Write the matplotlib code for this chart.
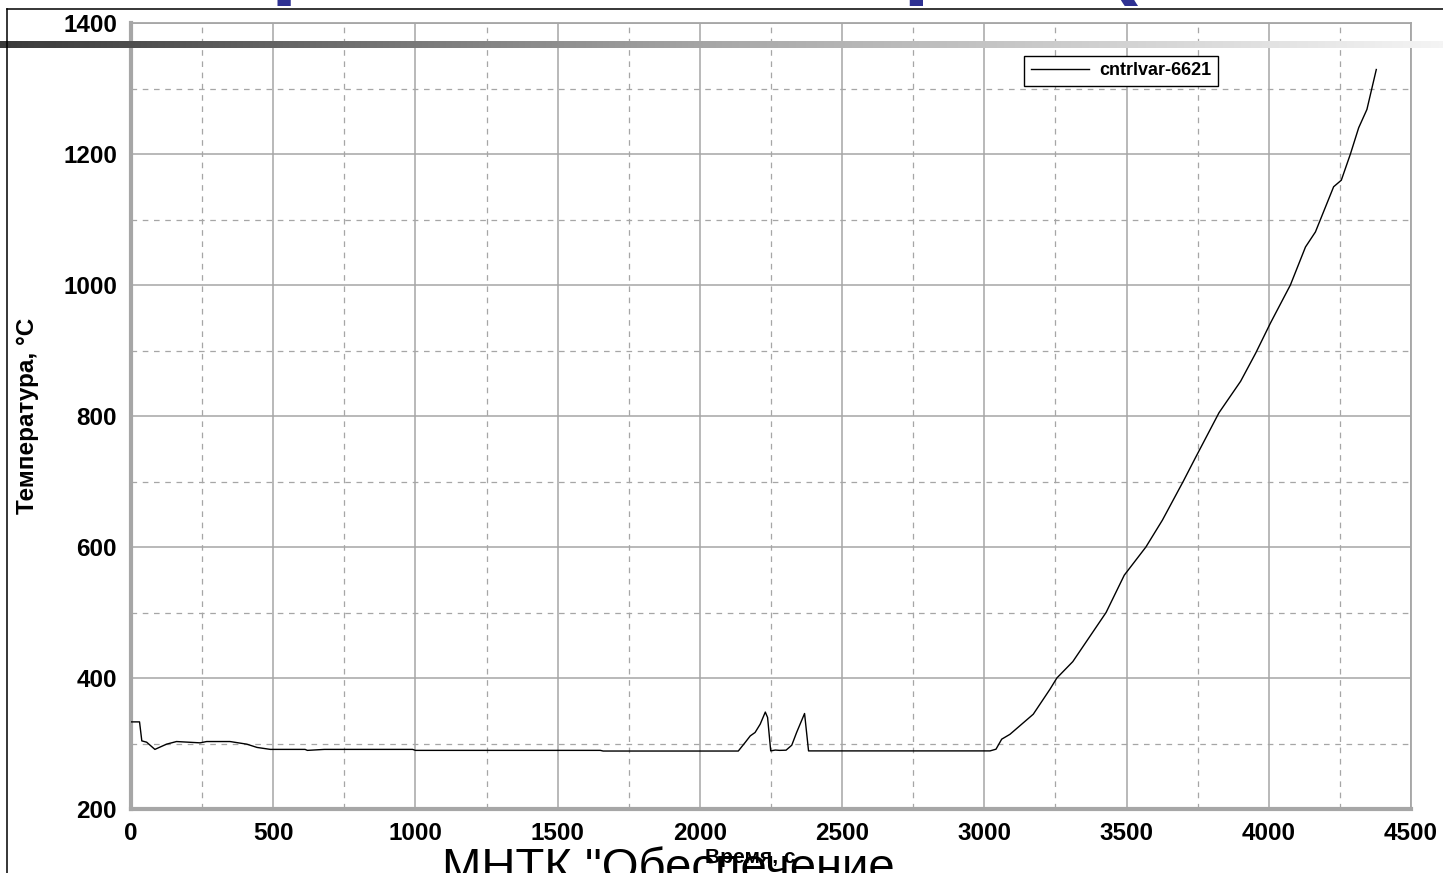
"""
plot.py
-------
Cladding temperature vs. time (RELAP5 control variable cntrlvar-6621),
redrawn from a conference slide.
"""

import numpy as np
import matplotlib
matplotlib.use("Agg")
import matplotlib.pyplot as plt
from matplotlib.lines import Line2D
from matplotlib.colors import LinearSegmentedColormap
from matplotlib.ticker import MultipleLocator

# ── data ──────────────────────────────────────────────────────────────────────
time_s = [0, 30, 38, 55, 84, 125, 160, 243, 266, 348, 407, 443, 490, 612,
          620, 680, 990, 1000, 1650, 1660, 2135, 2159, 2177, 2194, 2212,
          2230, 2238, 2249, 2265, 2280, 2303, 2323, 2340, 2368, 2382, 3020,
          3041, 3061, 3090, 3172, 3231, 3255, 3311, 3428, 3492, 3568, 3626,
          3699, 3743, 3825, 3901, 3954, 4006, 4076, 4129, 4164, 4228, 4255,
          4287, 4316, 4345, 4378]
temp_c = [333, 333, 304, 302, 291, 299, 303, 301, 303, 303, 299, 294, 291, 291,
          289.5, 291, 291, 289.5, 289.5, 288.5, 288.5, 301.5, 311.6, 316.8, 329.5,
          348, 339.7, 288.7, 290, 289.5, 289.8, 297.4, 316.8, 345.8, 288.7, 288.7,
          291.3, 306.6, 314, 344.7, 383, 400, 425, 500, 557, 600, 641,
          700, 737, 805, 853, 896, 942, 1000, 1058, 1081, 1150, 1160,
          1200, 1240, 1268, 1329]

series_name = "cntrlvar-6621"
x_label = "Время, с"
y_label = "Температура, °С"
slide_title = "Запроектная авария ("
footer_text = "МНТК \"Обеспечение"

X_MAX, Y_MIN, Y_MAX = 4500, 200, 1400

# ── style ─────────────────────────────────────────────────────────────────────
GRID_C = "#a6a6a6"
FONT = "Liberation Sans"
W, H = 1443, 873

fig = plt.figure(figsize=(W / 100, H / 100), dpi=100)
fig.patch.set_facecolor("white")

ax = fig.add_axes([131 / W, 64 / H, 1280 / W, 786 / H])
ax.plot(time_s, temp_c, color="black", lw=1.0, label=series_name, zorder=5)

ax.set_xlim(0, X_MAX)
ax.set_ylim(Y_MIN, Y_MAX)
ax.xaxis.set_major_locator(MultipleLocator(500))
ax.xaxis.set_minor_locator(MultipleLocator(250))
ax.yaxis.set_major_locator(MultipleLocator(200))
ax.yaxis.set_minor_locator(MultipleLocator(100))

ax.grid(which="major", color=GRID_C, lw=1.1, ls="-", zorder=1)
ax.grid(which="minor", color=GRID_C, lw=0.9, ls=(0, (4.5, 4.5)), zorder=1)
ax.set_axisbelow(True)

ax.tick_params(which="both", length=0)
ax.tick_params(axis="x", pad=9)
ax.tick_params(axis="y", pad=10)
for lab in ax.get_xticklabels() + ax.get_yticklabels():
    lab.set_fontfamily(FONT)
    lab.set_fontweight("bold")
    lab.set_fontsize(17.5)

for side in ("left", "bottom"):
    ax.spines[side].set_color(GRID_C)
    ax.spines[side].set_linewidth(3.0)
for side in ("top", "right"):
    ax.spines[side].set_color(GRID_C)
    ax.spines[side].set_linewidth(1.3)

ax.set_ylabel(y_label, fontfamily=FONT, fontweight="bold", fontsize=17.5)
ax.yaxis.set_label_coords(-0.072, 0.5)
ax.set_xlabel(x_label, fontfamily=FONT, fontweight="bold", fontsize=15)
ax.xaxis.set_label_coords(0.484, -0.050)

leg = ax.legend(loc="upper left", bbox_to_anchor=(0.698, 0.958),
                borderaxespad=0, fancybox=False, framealpha=1,
                edgecolor="black", handlelength=3.2, handletextpad=0.6,
                borderpad=0.35,
                prop={"family": FONT, "weight": "bold", "size": 13})
leg.get_frame().set_linewidth(1.0)

# ── slide decorations ─────────────────────────────────────────────────────────
# big blue slide title: only the descenders peek in at the top edge
fig.text(97 / W, 1 + 14 / H, slide_title, fontfamily=FONT, fontweight="bold",
         fontsize=70, color="#2e3192", ha="left", va="baseline")
fig.text(442 / W, -8 / H, footer_text, fontfamily=FONT, fontsize=34,
         color="black", ha="left", va="baseline")

fig.add_artist(Line2D([7 / W, 1], [1 - 9 / H] * 2, color="black", lw=1.1,
                      transform=fig.transFigure))
fig.add_artist(Line2D([7 / W] * 2, [0, 1 - 9 / H], color="black", lw=1.1,
                      transform=fig.transFigure))

# grey gradient bar running across the top of the slide
bar_ax = fig.add_axes([0, 1 - 48 / H, 1, 7 / H])
bar_cmap = LinearSegmentedColormap.from_list("bar", ["#3a3a3a", "#a8a8a8", "#f4f4f4"])
bar_ax.imshow(np.linspace(0, 1, 512).reshape(1, -1), cmap=bar_cmap,
              aspect="auto", extent=(0, 1, 0, 1))
bar_ax.set_axis_off()

fig.savefig("out.png", dpi=100)
